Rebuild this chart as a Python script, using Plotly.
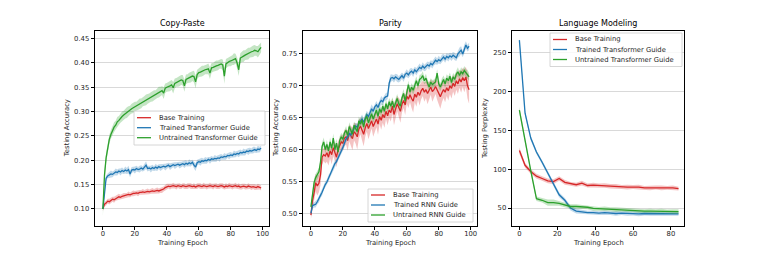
import plotly.graph_objects as go

W, H = 761, 254

# ---------------- data ----------------
cp_epochs = list(range(100))
cp_base = [
0.100,0.110,0.112,0.116,0.115,0.118,0.120,0.119,0.122,0.123,
0.125,0.124,0.126,0.127,0.128,0.128,0.130,0.129,0.131,0.132,
0.132,0.133,0.132,0.134,0.134,0.135,0.134,0.135,0.136,0.135,
0.136,0.137,0.136,0.137,0.138,0.137,0.138,0.139,0.141,0.144,
0.146,0.147,0.146,0.147,0.148,0.147,0.146,0.148,0.147,0.146,
0.148,0.147,0.146,0.147,0.148,0.147,0.146,0.147,0.145,0.147,
0.148,0.147,0.146,0.148,0.147,0.146,0.147,0.148,0.147,0.146,
0.148,0.147,0.146,0.147,0.148,0.147,0.145,0.147,0.146,0.148,
0.147,0.146,0.147,0.148,0.146,0.147,0.145,0.146,0.147,0.146,
0.145,0.147,0.146,0.145,0.146,0.145,0.144,0.146,0.145,0.143]
cp_base_std = [
0.004,0.005,0.005,0.005,0.006,0.005,0.005,0.006,0.005,0.005,
0.006,0.005,0.005,0.006,0.005,0.005,0.006,0.005,0.005,0.006,
0.005,0.005,0.006,0.005,0.005,0.006,0.005,0.005,0.006,0.005,
0.005,0.006,0.005,0.005,0.006,0.005,0.005,0.006,0.005,0.005,
0.006,0.005,0.006,0.005,0.006,0.005,0.006,0.005,0.006,0.005,
0.005,0.006,0.005,0.006,0.005,0.006,0.005,0.006,0.005,0.006,
0.005,0.006,0.005,0.006,0.005,0.006,0.005,0.006,0.005,0.006,
0.005,0.006,0.005,0.006,0.005,0.006,0.005,0.006,0.005,0.006,
0.005,0.006,0.005,0.006,0.005,0.006,0.005,0.006,0.005,0.006,
0.005,0.006,0.005,0.006,0.005,0.006,0.005,0.006,0.005,0.005]
cp_trained = [
0.100,0.135,0.163,0.168,0.170,0.172,0.171,0.174,0.176,0.175,
0.178,0.176,0.179,0.177,0.180,0.178,0.181,0.172,0.180,0.181,
0.180,0.183,0.181,0.182,0.184,0.182,0.186,0.190,0.183,0.184,
0.182,0.185,0.183,0.186,0.184,0.187,0.185,0.186,0.188,0.186,
0.188,0.190,0.187,0.189,0.191,0.189,0.190,0.192,0.190,0.191,
0.193,0.191,0.194,0.192,0.195,0.193,0.196,0.190,0.186,0.195,
0.197,0.196,0.199,0.198,0.200,0.199,0.202,0.200,0.203,0.202,
0.204,0.203,0.205,0.204,0.207,0.206,0.208,0.207,0.210,0.209,
0.211,0.210,0.213,0.212,0.214,0.213,0.216,0.215,0.217,0.216,
0.219,0.218,0.220,0.219,0.221,0.222,0.220,0.223,0.222,0.225]
cp_trained_std = [
0.004,0.006,0.006,0.005,0.006,0.007,0.006,0.005,0.007,0.006,
0.005,0.007,0.006,0.005,0.007,0.006,0.008,0.007,0.006,0.005,
0.007,0.006,0.005,0.007,0.006,0.005,0.007,0.008,0.006,0.005,
0.007,0.006,0.005,0.007,0.006,0.005,0.007,0.006,0.005,0.007,
0.006,0.005,0.007,0.006,0.005,0.007,0.006,0.005,0.007,0.006,
0.005,0.007,0.006,0.005,0.007,0.006,0.005,0.007,0.008,0.006,
0.005,0.007,0.006,0.005,0.007,0.006,0.005,0.007,0.006,0.005,
0.007,0.006,0.005,0.007,0.006,0.005,0.007,0.006,0.005,0.007,
0.006,0.005,0.007,0.006,0.005,0.007,0.006,0.005,0.007,0.006,
0.005,0.007,0.006,0.005,0.007,0.006,0.005,0.007,0.006,0.005]
cp_untrained = [
0.100,0.170,0.205,0.228,0.243,0.253,0.262,0.268,0.272,0.279,
0.282,0.287,0.290,0.293,0.296,0.298,0.301,0.303,0.306,0.308,
0.310,0.311,0.314,0.316,0.317,0.320,0.322,0.324,0.326,0.328,
0.330,0.332,0.334,0.335,0.338,0.340,0.341,0.343,0.338,0.348,
0.350,0.351,0.353,0.355,0.349,0.358,0.360,0.361,0.363,0.365,
0.364,0.353,0.366,0.368,0.370,0.371,0.373,0.372,0.361,0.376,
0.380,0.381,0.383,0.384,0.386,0.387,0.388,0.379,0.390,0.391,
0.393,0.394,0.395,0.397,0.398,0.396,0.373,0.398,0.401,0.403,
0.404,0.406,0.408,0.409,0.400,0.386,0.410,0.413,0.414,0.416,
0.418,0.419,0.421,0.423,0.424,0.426,0.425,0.423,0.428,0.432]
cp_untrained_std = [
0.015,0.012,0.010,0.010,0.009,0.009,0.009,0.010,0.009,0.010,
0.009,0.010,0.010,0.009,0.010,0.011,0.010,0.009,0.010,0.011,
0.010,0.009,0.010,0.011,0.010,0.009,0.010,0.011,0.010,0.009,
0.010,0.011,0.010,0.009,0.010,0.011,0.010,0.009,0.012,0.010,
0.009,0.010,0.011,0.010,0.012,0.010,0.009,0.010,0.011,0.010,
0.011,0.012,0.010,0.009,0.010,0.011,0.010,0.012,0.013,0.010,
0.009,0.010,0.011,0.010,0.009,0.010,0.011,0.012,0.010,0.009,
0.010,0.011,0.010,0.009,0.010,0.011,0.016,0.010,0.009,0.010,
0.011,0.010,0.012,0.010,0.011,0.013,0.010,0.011,0.012,0.010,
0.011,0.012,0.010,0.011,0.012,0.011,0.010,0.012,0.011,0.010]

par_epochs = list(range(100))
par_base = [
0.497,0.520,0.532,0.548,0.543,0.547,0.560,0.588,0.592,0.590,
0.595,0.588,0.598,0.592,0.603,0.596,0.588,0.600,0.607,0.612,
0.610,0.618,0.620,0.614,0.626,0.622,0.617,0.628,0.625,0.620,
0.632,0.637,0.630,0.624,0.634,0.641,0.633,0.639,0.645,0.636,
0.642,0.648,0.640,0.652,0.646,0.655,0.650,0.660,0.653,0.662,
0.658,0.668,0.655,0.664,0.672,0.666,0.660,0.671,0.677,0.670,
0.684,0.679,0.686,0.680,0.676,0.687,0.682,0.690,0.685,0.692,
0.696,0.690,0.694,0.688,0.692,0.698,0.691,0.694,0.699,0.693,
0.687,0.683,0.689,0.694,0.690,0.697,0.692,0.700,0.696,0.704,
0.699,0.708,0.703,0.711,0.706,0.713,0.708,0.714,0.700,0.694]
par_base_std = [
0.006,0.010,0.012,0.014,0.015,0.014,0.016,0.012,0.010,0.012,
0.014,0.013,0.012,0.015,0.013,0.014,0.016,0.013,0.012,0.011,
0.012,0.013,0.012,0.016,0.013,0.015,0.018,0.014,0.016,0.020,
0.015,0.013,0.016,0.019,0.014,0.013,0.017,0.014,0.012,0.016,
0.014,0.013,0.017,0.012,0.015,0.013,0.016,0.012,0.015,0.013,
0.014,0.012,0.017,0.014,0.012,0.015,0.018,0.013,0.012,0.016,
0.012,0.014,0.012,0.015,0.018,0.013,0.015,0.012,0.016,0.013,
0.012,0.015,0.013,0.017,0.014,0.012,0.016,0.014,0.012,0.015,
0.018,0.019,0.015,0.013,0.016,0.013,0.015,0.013,0.016,0.013,
0.015,0.014,0.016,0.014,0.017,0.015,0.018,0.016,0.020,0.022]
par_trained = [
0.500,0.512,0.513,0.514,0.518,0.522,0.528,0.533,0.540,0.545,
0.549,0.555,0.560,0.566,0.572,0.578,0.581,0.586,0.592,0.598,
0.603,0.610,0.617,0.620,0.625,0.623,0.629,0.633,0.637,0.635,
0.641,0.644,0.648,0.643,0.650,0.655,0.652,0.659,0.664,0.660,
0.667,0.670,0.666,0.673,0.677,0.675,0.681,0.683,0.684,0.704,
0.712,0.713,0.711,0.714,0.712,0.710,0.713,0.716,0.712,0.718,
0.720,0.717,0.721,0.723,0.720,0.725,0.722,0.726,0.729,0.727,
0.731,0.728,0.730,0.733,0.731,0.735,0.733,0.737,0.740,0.738,
0.741,0.739,0.743,0.745,0.742,0.746,0.744,0.747,0.745,0.748,
0.746,0.744,0.750,0.753,0.756,0.750,0.758,0.764,0.759,0.762]
par_trained_std = [
0.004,0.005,0.004,0.005,0.004,0.005,0.004,0.005,0.004,0.005,
0.004,0.005,0.004,0.005,0.004,0.005,0.004,0.005,0.004,0.005,
0.005,0.006,0.005,0.006,0.005,0.006,0.005,0.006,0.005,0.006,
0.005,0.006,0.007,0.006,0.005,0.006,0.005,0.006,0.007,0.006,
0.005,0.006,0.005,0.006,0.007,0.006,0.005,0.006,0.005,0.007,
0.006,0.005,0.006,0.005,0.006,0.005,0.006,0.005,0.006,0.005,
0.006,0.005,0.006,0.005,0.006,0.005,0.006,0.005,0.006,0.005,
0.006,0.005,0.006,0.005,0.006,0.005,0.006,0.005,0.006,0.005,
0.006,0.005,0.006,0.005,0.006,0.005,0.006,0.005,0.006,0.005,
0.006,0.005,0.006,0.007,0.006,0.005,0.007,0.006,0.005,0.006]
par_untrained = [
0.510,0.530,0.548,0.556,0.560,0.565,0.580,0.605,0.612,0.600,
0.608,0.598,0.612,0.602,0.618,0.600,0.610,0.596,0.614,0.620,
0.616,0.626,0.630,0.622,0.636,0.630,0.624,0.638,0.633,0.628,
0.645,0.640,0.646,0.635,0.648,0.652,0.642,0.650,0.656,0.648,
0.654,0.662,0.652,0.664,0.658,0.668,0.660,0.672,0.664,0.675,
0.668,0.676,0.666,0.674,0.680,0.672,0.668,0.681,0.688,0.676,
0.692,0.702,0.690,0.698,0.693,0.700,0.708,0.700,0.710,0.712,
0.716,0.708,0.712,0.704,0.698,0.706,0.702,0.704,0.706,0.720,
0.703,0.698,0.705,0.710,0.703,0.712,0.708,0.715,0.705,0.714,
0.710,0.718,0.722,0.716,0.722,0.719,0.724,0.720,0.718,0.714]
par_untrained_std = [
0.005,0.006,0.007,0.006,0.007,0.006,0.007,0.006,0.007,0.006,
0.007,0.006,0.007,0.006,0.007,0.006,0.007,0.006,0.007,0.006,
0.007,0.006,0.007,0.006,0.007,0.006,0.007,0.006,0.007,0.006,
0.007,0.006,0.007,0.006,0.007,0.006,0.007,0.006,0.007,0.006,
0.007,0.006,0.007,0.006,0.007,0.006,0.007,0.006,0.007,0.006,
0.007,0.006,0.007,0.006,0.007,0.006,0.007,0.006,0.007,0.006,
0.007,0.006,0.007,0.006,0.007,0.006,0.007,0.006,0.007,0.006,
0.007,0.006,0.007,0.006,0.007,0.006,0.007,0.006,0.007,0.006,
0.007,0.006,0.007,0.006,0.007,0.006,0.007,0.006,0.007,0.006,
0.007,0.006,0.007,0.006,0.007,0.006,0.007,0.006,0.007,0.006]

lm_epochs = [0,3,6,9,12,15,18,21,24,27,30,33,36,39,42,45,48,51,54,57,60,63,66,69,72,75,78,81,84]
lm_base = [124,105,97,91,88,85,84,88,83,81,80,82,79,79.5,79,79,78,78,77,77,77,77,76,76,76.5,76,76,76,75]
lm_base_std = [4,3,3,3,3,3,3,3,3,2.5,2.5,3,2.5,3,2.5,3,3,3,2.5,3,2.5,3,2.5,3,2.5,3,2.5,3,2.5]
lm_trained = [266,172,140,122,109,95,80,67,60,50,46,45,44,44,43.5,44,43.5,43,43.5,43,43,42.5,43,43,42.5,43,42.5,42.5,42.5]
lm_trained_std = [3,3,3,2.5,2.5,2.5,3,3,3,3,3,2.5,2.5,3,2.5,3,2.5,3,2.5,3,2.5,3,2.5,3,2.5,3,2.5,3,2.5]
lm_untrained = [176,135,98,62,60,57,57,56,54,52,52,51.5,51,49.5,49,49,48.5,48,48,47.5,47,46.5,46,46,46,46,45.5,45.5,45.5]
lm_untrained_std = [4,4,3,3,3,4,4,3,3,3,3,2.5,2.5,3,2.5,3,2.5,3,2.5,3,2.5,3,2.5,3,2.5,3,2.5,3,3]

cp_labels = ["Base Training", "Trained Transformer Guide", "Untrained Transformer Guide"]
par_labels = ["Base Training", "Trained RNN Guide", "Untrained RNN Guide"]
lm_labels = ["Base Training", "Trained Transformer Guide", "Untrained Transformer Guide"]
titles = ["Copy-Paste", "Parity", "Language Modeling"]
y_titles = ["Testing Accuracy", "Testing Accuracy", "Testing Perplexity"]
x_title = "Training Epoch"

# ---------------- style ----------------
COLORS = ["#d62728", "#1f77b4", "#2ca02c"]
FILLS = ["rgba(214,39,40,0.28)", "rgba(31,119,180,0.28)", "rgba(44,160,44,0.28)"]
FONT = "DejaVu Sans"
TXT = "#262626"
FS = 6.8

def px(x):
    return x / W

def py(y):
    return 1 - y / H

fig = go.Figure()

panels = [
    (cp_epochs, [cp_base, cp_trained, cp_untrained], [cp_base_std, cp_trained_std, cp_untrained_std], "x", "y"),
    (par_epochs, [par_base, par_trained, par_untrained], [par_base_std, par_trained_std, par_untrained_std], "x2", "y2"),
    (lm_epochs, [lm_base, lm_trained, lm_untrained], [lm_base_std, lm_trained_std, lm_untrained_std], "x3", "y3"),
]

for xs, means, stds, xa, ya in panels:
    for i, (m, s) in enumerate(zip(means, stds)):
        lo = [a - b for a, b in zip(m, s)]
        hi = [a + b for a, b in zip(m, s)]
        fig.add_trace(go.Scatter(x=xs, y=lo, mode="lines", line=dict(width=0, color=FILLS[i]),
                                 showlegend=False, hoverinfo="skip", xaxis=xa, yaxis=ya))
        fig.add_trace(go.Scatter(x=xs, y=hi, mode="lines", line=dict(width=0, color=FILLS[i]),
                                 fill="tonexty", fillcolor=FILLS[i],
                                 showlegend=False, hoverinfo="skip", xaxis=xa, yaxis=ya))
        fig.add_trace(go.Scatter(x=xs, y=m, mode="lines", line=dict(width=1.3, color=COLORS[i]),
                                 showlegend=False, xaxis=xa, yaxis=ya))

x_domains = [(95, 269), (303, 477), (512, 684)]
y_dom = [py(226), py(31)]
x_ranges = [[-4.95, 103.95], [-4.95, 103.95], [-3.9, 86.9]]
y_ranges = [[0.065, 0.4656], [0.480, 0.786], [26.9, 277.8]]
x_ticks = [[0, 20, 40, 60, 80, 100], [0, 20, 40, 60, 80, 100], [0, 20, 40, 60, 80]]
y_ticks = [[0.10, 0.15, 0.20, 0.25, 0.30, 0.35, 0.40, 0.45],
           [0.50, 0.55, 0.60, 0.65, 0.70, 0.75],
           [50, 100, 150, 200, 250]]
y_fmt = [".2f", ".2f", "d"]
y_title_x = [66.7, 275.5, 484.5]

layout = dict(
    width=W, height=H, margin=dict(l=0, r=0, t=0, b=0),
    paper_bgcolor="white", plot_bgcolor="white",
    font=dict(family=FONT, size=FS, color=TXT),
    showlegend=False,
)
for k in range(3):
    sx = "xaxis" if k == 0 else f"xaxis{k+1}"
    sy = "yaxis" if k == 0 else f"yaxis{k+1}"
    anchor_x = "y" if k == 0 else f"y{k+1}"
    anchor_y = "x" if k == 0 else f"x{k+1}"
    layout[sx] = dict(
        domain=[px(x_domains[k][0]), px(x_domains[k][1])], anchor=anchor_x,
        range=x_ranges[k], tickmode="array", tickvals=x_ticks[k],
        ticks="outside", ticklen=3.5, tickwidth=0.8, tickcolor="black",
        ticklabelstandoff=-3,
        showline=True, mirror=True, linecolor="black", linewidth=0.8,
        showgrid=False, zeroline=False, automargin=False,
        tickfont=dict(family=FONT, size=FS, color=TXT),
    )
    layout[sy] = dict(
        domain=y_dom, anchor=anchor_y,
        range=y_ranges[k], tickmode="array", tickvals=y_ticks[k], tickformat=y_fmt[k],
        ticks="outside", ticklen=3.5, tickwidth=0.8, tickcolor="black",
        showline=True, mirror=True, linecolor="black", linewidth=0.8,
        showgrid=True, gridcolor="#d9d9d9", gridwidth=0.8, zeroline=False, automargin=False,
        tickfont=dict(family=FONT, size=FS, color=TXT),
    )

annotations = []
shapes = []
for k in range(3):
    cx = (x_domains[k][0] + x_domains[k][1]) / 2
    annotations.append(dict(text=titles[k], x=px(cx), y=py(23.3), xref="paper", yref="paper",
                            xanchor="center", yanchor="middle", showarrow=False,
                            font=dict(family=FONT, size=8.0, color="black")))
    annotations.append(dict(text=x_title, x=px(cx), y=py(242.5), xref="paper", yref="paper",
                            xanchor="center", yanchor="middle", showarrow=False,
                            font=dict(family=FONT, size=FS, color=TXT)))
    annotations.append(dict(text=y_titles[k], x=px(y_title_x[k]), y=py(128.5), xref="paper", yref="paper",
                            xanchor="center", yanchor="middle", showarrow=False, textangle=-90,
                            font=dict(family=FONT, size=FS, color=TXT)))

# legends (box, row positions, handle span, text start) in pixels
legend_specs = [
    (cp_labels, (134, 265, 111, 145), [117.7, 127.7, 137.7], (137, 151), 157),
    (par_labels, (368, 473, 189, 222), [195, 205, 215], (371, 385), 391),
    (lm_labels, (550, 682, 33, 66.5), [39.5, 49.5, 59.5], (553, 567), 573),
]
for labels, box, rows, handle, tx in legend_specs:
    shapes.append(dict(type="rect", xref="paper", yref="paper",
                       x0=px(box[0]), x1=px(box[1]), y0=py(box[3]), y1=py(box[2]),
                       line=dict(color="#cccccc", width=0.8), fillcolor="rgba(255,255,255,0.8)",
                       layer="above"))
    for i, (lab, ry) in enumerate(zip(labels, rows)):
        shapes.append(dict(type="line", xref="paper", yref="paper",
                           x0=px(handle[0]), x1=px(handle[1]), y0=py(ry), y1=py(ry),
                           line=dict(color=COLORS[i], width=1.3), layer="above"))
        annotations.append(dict(text=lab, x=px(tx), y=py(ry), xref="paper", yref="paper",
                                xanchor="left", yanchor="middle", showarrow=False,
                                font=dict(family=FONT, size=FS, color=TXT)))

layout["annotations"] = annotations
layout["shapes"] = shapes
fig.update_layout(**layout)

fig.write_html(
    "out.html",
    config={"displayModeBar": False},
    post_script="document.body.style.margin='0';document.body.style.padding='0';document.body.style.overflow='hidden';",
)
